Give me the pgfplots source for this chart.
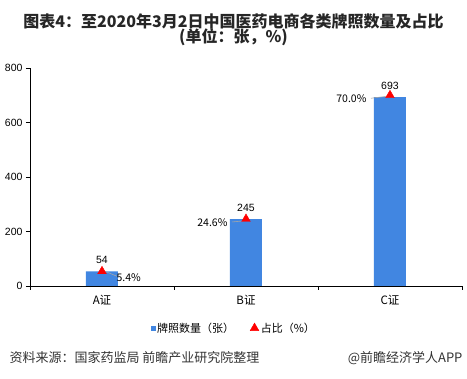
\documentclass[border=0pt]{standalone}
\usepackage{pgfplots}
\pgfplotsset{compat=1.18}
\usepackage{fontspec}
\setmainfont{Noto Sans CJK SC}
\newfontfamily\arial{Liberation Sans}
\definecolor{barblue}{RGB}{65,134,225}
\begin{document}
\begin{tikzpicture}[x=1pt,y=1pt]
\begin{axis}[
  name=main,
  scale only axis, width=432pt, height=218pt,
  xmin=-0.5, xmax=2.5, ymin=0, ymax=800,
  axis x line=bottom, axis y line=left,
  axis line style={-, black, line width=0.8pt},
  xtick={0,1,2}, xticklabels={A证,B证,C证},
  minor xtick={-0.5,0.5,1.5,2.5},
  ytick={0,200,400,600,800},
  tick align=outside,
  major tick length=4pt, minor tick length=4pt,
  x tick style={draw=none},
  minor x tick style={draw=black, line width=0.8pt},
  y tick style={black, line width=0.8pt},
  xticklabel style={font=\fontsize{11.5}{12}\selectfont, yshift=-2pt},
  yticklabel style={font=\arial\fontsize{10.5}{12}\selectfont},
  /pgf/number format/assume math mode=true,
  ybar, bar width=32pt,
  nodes near coords,
  every node near coord/.append style={font=\arial\fontsize{10.5}{12}\selectfont, yshift=4pt, text=black},
]
\addplot[fill=barblue, draw=none] coordinates {(0,54) (1,245) (2,693)};
\coordinate (O) at (axis cs:-0.5,0);
\end{axis}
\begin{axis}[
  at={(O)}, anchor=south west,
  scale only axis, width=432pt, height=218pt,
  xmin=-0.5, xmax=2.5, ymin=0, ymax=80,
  hide x axis, hide y axis,
  clip=false,
  point meta=explicit symbolic,
  legend style={at={(0.472,-0.193)}, anchor=center, draw=none, fill=none,
    legend columns=2, font=\fontsize{11}{12}\selectfont,
    /tikz/every even column/.append style={column sep=14pt}},
  legend cell align=left,
]
\addlegendimage{only marks, mark=square*, mark size=2.2pt, color=barblue}
\addlegendentry{牌照数量（张）}
\addplot[only marks, mark=triangle*, mark size=5pt, color=red,
  nodes near coords, every node near coord/.append style={anchor=west, xshift=11pt, yshift=-6pt, text=black, font=\fontsize{10.5}{12}\selectfont}]
  coordinates {(0,5.4) [5.4\%]};
\addlegendentry{占比（\%）}
\addplot[only marks, mark=triangle*, mark size=5pt, color=red, forget plot,
  nodes near coords, every node near coord/.append style={anchor=east, xshift=-15pt, yshift=-4pt, text=black, font=\fontsize{10.5}{12}\selectfont}]
  coordinates {(1,24.6) [24.6\%]};
\addplot[only marks, mark=triangle*, mark size=5pt, color=red, forget plot,
  nodes near coords, every node near coord/.append style={anchor=east, xshift=-20pt, yshift=-3pt, text=black, font=\fontsize{10.5}{12}\selectfont}]
  coordinates {(2,70.0) [70.0\%]};
\draw[gray!70, line width=0.6pt] ([xshift=3pt]axis cs:0,5.4) -- ([xshift=15pt,yshift=-5pt]axis cs:0,5.4);
\draw[gray!70, line width=0.6pt] ([xshift=-14pt,yshift=-3pt]axis cs:1,24.6) -- ([xshift=-3pt,yshift=-2pt]axis cs:1,24.6);
\draw[gray!70, line width=0.6pt] ([xshift=-19pt,yshift=-3pt]axis cs:2,70.0) -- ([xshift=-3pt,yshift=-1pt]axis cs:2,70.0);
\end{axis}
\path (O) ++(-30,-93) coordinate (P);
% title
\node[font=\fontsize{16}{17}\selectfont\bfseries, text=black!85] at ([shift={(233.5,358)}]P) {图表4：至2020年3月2日中国医药电商各类牌照数量及占比};
\node[font=\fontsize{16}{17}\selectfont\bfseries, text=black!85] at ([shift={(233.5,342)}]P) {(单位：张，\%)};
% footer
\node[anchor=west, font=\fontsize{13}{14}\selectfont, text=black!80] at ([shift={(6,21)}]P) {资料来源：国家药监局 前瞻产业研究院整理};
\node[anchor=east, font=\fontsize{13}{14}\selectfont, text=black!80] at ([shift={(466,21)}]P) {@前瞻经济学人APP};
\pgfresetboundingbox
\path[use as bounding box] (P) rectangle ++(467,379);
\end{tikzpicture}
\end{document}
